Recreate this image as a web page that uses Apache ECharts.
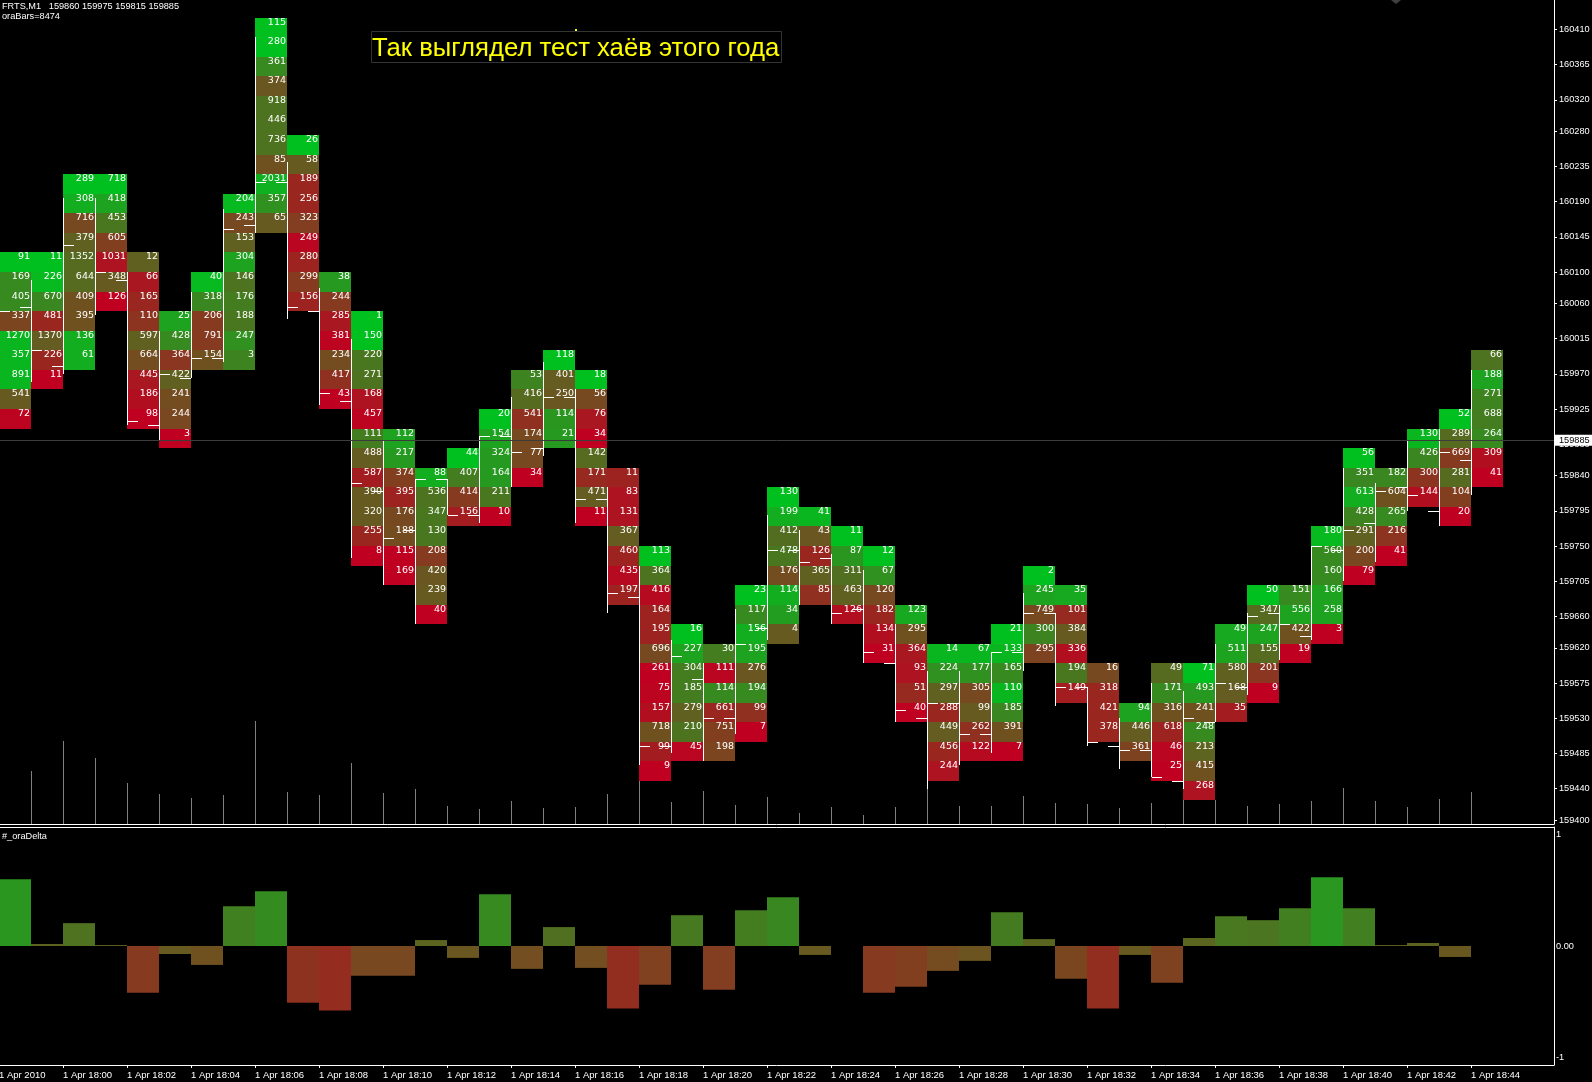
<!DOCTYPE html>
<html>
<head>
<meta charset="utf-8">
<title>oraDelta</title>
<style>
html,body{margin:0;padding:0;background:#000;}
#chart{width:1592px;height:1082px;}
</style>
<script src="https://cdn.jsdelivr.net/npm/echarts@6/dist/echarts.min.js"></script>
</head>
<body>
<div id="chart"></div>
<script>
// top price of the first cell in every one-minute column
var topPrices = [160125,160125,160225,160225,160125,160050,160100,160200,160425,160275,160100,160050,159900,159850,159875,159925,159975,160000,159975,159850,159750,159650,159625,159700,159825,159800,159775,159750,159675,159625,159625,159650,159725,159700,159600,159550,159600,159600,159650,159700,159700,159775,159875,159850,159900,159925,160000];
var cellStep = 25;
// footprint numbers, top to bottom
var cellValues = [
	[91,169,405,337,1270,357,891,541,72],
	[11,226,670,481,1370,226,11],
	[289,308,716,379,1352,644,409,395,136,61],
	[718,418,453,605,1031,348,126],
	[12,66,165,110,597,664,445,186,98],
	[25,428,364,422,241,244,3],
	[40,318,206,791,154],
	[204,243,153,304,146,176,188,247,3],
	[115,280,361,374,918,446,736,85,2031,357,65],
	[26,58,189,256,323,249,280,299,156],
	[38,244,285,381,234,417,43],
	[1,150,220,271,168,457,111,488,587,390,320,255,8],
	[112,217,374,395,176,188,115,169],
	[88,536,347,130,208,420,239,40],
	[44,407,414,156],
	[20,154,324,164,211,10],
	[53,416,541,174,77,34],
	[118,401,250,114,21],
	[18,56,76,34,142,171,471,11],
	[11,83,131,367,460,435,197],
	[113,364,416,164,195,696,261,75,157,718,99,9],
	[16,227,304,185,279,210,45],
	[30,111,114,661,751,198],
	[23,117,156,195,276,194,99,7],
	[130,199,412,478,176,114,34,4],
	[41,43,126,365,85],
	[11,87,311,463,126],
	[12,67,120,182,134,31],
	[123,295,364,93,51,40],
	[14,224,297,288,449,456,244],
	[67,177,305,99,262,122],
	[21,133,165,110,185,391,7],
	[2,245,749,300,295],
	[35,101,384,336,194,149],
	[16,318,421,378],
	[94,446,361],
	[49,171,316,618,46,25],
	[71,493,241,248,213,415,268],
	[49,511,580,168,35],
	[50,347,247,155,201,9],
	[151,556,422,19],
	[180,560,160,166,258,3],
	[56,351,613,428,291,200,79],
	[182,604,265,216,41],
	[130,426,300,144],
	[52,289,669,281,104,20],
	[66,188,271,688,264,309,41]
];
// 100 = full green, 0 = full red
var cellShades = [
	[100,72,72,36,95,95,95,47,2],
	[100,97,70,20,48,20,0],
	[100,90,38,50,55,55,42,42,90,90],
	[100,85,62,33,10,47,0],
	[50,12,20,27,50,40,12,8,0],
	[85,72,28,50,40,37,0],
	[97,70,30,30,42],
	[97,38,50,85,60,65,62,75,68],
	[100,100,72,45,60,60,60,42,92,75,47],
	[100,47,20,20,32,3,18,30,18],
	[80,30,12,2,40,25,0],
	[100,100,62,60,10,2,65,48,15,47,47,20,0],
	[85,80,33,18,38,40,0,0],
	[90,60,62,62,30,45,47,0],
	[100,65,30,15],
	[100,85,80,80,62,0],
	[68,55,25,38,38,0],
	[100,48,45,78,80],
	[100,38,12,0,55,22,48,0],
	[18,10,10,48,18,5,18],
	[100,60,5,18,18,38,0,2,8,42,15,0],
	[100,85,65,65,50,60,3],
	[65,3,72,20,33,36],
	[100,72,90,85,45,72,25,0],
	[100,90,57,62,40,90,82,47],
	[95,45,20,50,25],
	[100,78,58,50,8],
	[100,75,38,20,8,0],
	[88,42,12,10,22,0],
	[95,75,50,20,48,20,10],
	[95,75,38,47,25,5],
	[100,95,72,95,70,42,0],
	[100,85,38,68,35],
	[88,22,47,8,62,15],
	[38,20,20,20],
	[85,48,35],
	[55,72,42,18,3,0],
	[100,80,42,72,52,42,10],
	[88,85,50,48,15],
	[100,55,85,55,28,0],
	[72,85,42,0],
	[97,72,72,85,85,0],
	[100,70,90,68,50,37,0],
	[70,42,72,27,0],
	[95,70,27,8],
	[100,55,30,55,33,0],
	[60,85,68,65,72,8,0]
];
// white price bars
var highPrices = [160050,160090,160195,160195,160100,160025,160075,160180,160400,160240,160080,160015,159885,159835,159835,159890,159940,159985,159950,159825,159725,159630,159600,159670,159790,159770,159740,159720,159650,159590,159590,159615,159690,159665,159570,159530,159575,159565,159625,159665,159675,159750,159850,159830,159885,159900,159975];
var lowPrices = [160050,159960,159970,160045,159905,159885,159965,159985,160150,160040,159930,159735,159700,159650,159790,159780,159825,159865,159780,159665,159470,159485,159475,159510,159630,159675,159650,159600,159525,159440,159470,159485,159590,159545,159495,159465,159455,159440,159525,159560,159605,159630,159705,159730,159795,159775,159815];
var openPrices = [null,160055,159980,null,160090,159905,159965,159990,160160,160215,160050,159935,159820,159770,159835,159790,159890,159875,159940,159810,159685,159495,159580,159530,159645,159745,159735,159670,159600,159530,159550,159510,159615,159665,159570,159495,159490,159450,159525,159570,159665,159635,159745,159780,159825,159795,159860];
var closePrices = [160050,160000,160135,160100,159910,159970,159990,160155,160215,160055,159945,159830,159760,159835,159790,159890,159870,159940,159810,159690,159495,159610,159530,159625,159745,159730,159665,159615,159540,159550,159510,159615,159665,159570,159500,159490,159455,159530,159575,159660,159650,159750,159770,159820,159815,159870,159885];
var volumes = [0,2915,4565,3630,2255,1650,1430,1595,5665,1760,1595,3355,1705,1925,990,825,1265,880,935,1650,3190,1210,1815,1045,1485,605,935,495,935,1925,990,990,1540,1155,1100,880,1155,1870,1320,990,1100,1265,1980,1265,935,1375,1760];
var deltas = [0.56,0.017,0.192,0.008,-0.393,-0.067,-0.159,0.334,0.46,-0.476,-0.543,-0.25,-0.25,0.05,-0.1,0.435,-0.192,0.159,-0.184,-0.526,-0.326,0.259,-0.368,0.3,0.41,-0.075,0,-0.393,-0.343,-0.209,-0.125,0.284,0.058,-0.276,-0.526,-0.075,-0.309,0.067,0.25,0.217,0.318,0.577,0.318,0.008,0.025,-0.092];
var priceTicks = [160410,160365,160320,160280,160235,160190,160145,160100,160060,160015,159970,159925,159880,159840,159795,159750,159705,159660,159620,159575,159530,159485,159440,159400];
var lastPrice = 159885;
var timeTicks = [0,2,4,6,8,10,12,14,16,18,20,22,24,26,28,30,32,34,36,38,40,42,44,46];
var timeLabels = ['1 Apr 2010','1 Apr 18:00','1 Apr 18:02','1 Apr 18:04','1 Apr 18:06','1 Apr 18:08','1 Apr 18:10','1 Apr 18:12','1 Apr 18:14','1 Apr 18:16','1 Apr 18:18','1 Apr 18:20','1 Apr 18:22','1 Apr 18:24','1 Apr 18:26','1 Apr 18:28','1 Apr 18:30','1 Apr 18:32','1 Apr 18:34','1 Apr 18:36','1 Apr 18:38','1 Apr 18:40','1 Apr 18:42','1 Apr 18:44'];
var deltaTicks = [0.94,0,-0.94];
var deltaTickLabels = ['1','0.00','-1'];

var smallFont = '"Liberation Sans"';

function shadeColor(t) {
	// red -> olive -> green, blue stays at 32
	return 'rgb(' + Math.round(192 * (1 - t)) + ',' + Math.round(192 * t) + ',32)';
}

var cellData = [];
cellValues.forEach(function(col, k) {
	col.forEach(function(v, i) {
		cellData.push([k, topPrices[k] - i * cellStep, topPrices[k] - (i + 1) * cellStep, v, cellShades[k][i]]);
	});
});
var barData = highPrices.map(function(h, k) {
	return [k, h, lowPrices[k], openPrices[k], closePrices[k]];
});
var volumeData = volumes.map(function(v, k) { return [k, v]; });
var deltaData = deltas.map(function(d, k) {
	return {
		value: [k + 0.5, d],
		itemStyle: { color: shadeColor(0.5 + 0.5 * d) }
	};
});

function renderCell(params, api) {
	var a = api.coord([api.value(0), api.value(1)]);
	var b = api.coord([api.value(0) + 1, api.value(2)]);
	var x = Math.round(a[0]), y = Math.round(a[1]);
	return {
		type: 'group',
		children: [{
			type: 'rect',
			shape: { x: x, y: y, width: Math.round(b[0]) - x, height: Math.round(b[1]) - y },
			style: { fill: shadeColor(api.value(4) / 100) }
		}, {
			type: 'text',
			style: {
				x: Math.round(b[0]) - 1,
				y: y + 5,
				text: String(api.value(3)),
				fill: '#fff',
				font: '9.5px "DejaVu Sans"',
				textAlign: 'right',
				textVerticalAlign: 'middle'
			}
		}]
	};
}

function renderPriceBar(params, api) {
	var k = api.value(0);
	var x = Math.round(api.coord([k, 0])[0]);
	var top = Math.round(api.coord([k, api.value(1)])[1]);
	var bottom = Math.round(api.coord([k, api.value(2)])[1]);
	var kids = [{ type: 'rect', shape: { x: x, y: top, width: 1, height: Math.max(bottom - top, 0) }, style: { fill: '#fff' } }];
	if (!isNaN(api.value(3))) {
		kids.push({ type: 'rect', shape: { x: x - 11, y: Math.round(api.coord([k, api.value(3)])[1]), width: 11, height: 1 }, style: { fill: '#fff' } });
	}
	kids.push({ type: 'rect', shape: { x: x + 1, y: Math.round(api.coord([k, api.value(4)])[1]), width: 10, height: 1 }, style: { fill: '#fff' } });
	return { type: 'group', children: kids };
}

function renderVolume(params, api) {
	var k = api.value(0);
	var p = api.coord([k, api.value(1)]);
	var base = api.coord([k, 0]);
	return {
		type: 'rect',
		shape: { x: Math.round(p[0]), y: Math.round(p[1]), width: 1, height: Math.round(base[1]) - Math.round(p[1]) },
		style: { fill: '#808080' }
	};
}

var myChart = echarts.init(document.getElementById('chart'));
var option = {
	animation: false,
	backgroundColor: '#000',
	title: [
		{ text: 'FRTS,M1   159860 159975 159815 159885', left: 2, top: 2, padding: 0, textStyle: { color: '#fff', fontSize: 9.2, fontWeight: 'normal', fontFamily: smallFont } },
		{ text: 'oraBars=8474', left: 2, top: 12, padding: 0, textStyle: { color: '#fff', fontSize: 9.2, fontWeight: 'normal', fontFamily: smallFont } },
		{ text: '#_oraDelta', left: 2, top: 832, padding: 0, textStyle: { color: '#fff', fontSize: 9.2, fontWeight: 'normal', fontFamily: smallFont } },
		{ text: 'Так выглядел тест хаёв этого года', left: 372, top: 36, padding: 0, textStyle: { color: '#ffff00', fontSize: 25.7, fontWeight: 'normal', fontFamily: smallFont } }
	],
	graphic: [
		{ type: 'rect', silent: true, shape: { x: 371.5, y: 31.5, width: 410, height: 31 }, style: { fill: 'none', stroke: '#333', lineWidth: 1 } },
		{ type: 'rect', silent: true, shape: { x: 575, y: 29, width: 2, height: 2 }, style: { fill: '#ffff00' } },
		{ type: 'polygon', silent: true, shape: { points: [[1391, 0], [1401, 0], [1396, 4]] }, style: { fill: '#404040' } }
	],
	grid: [
		{ left: -1, top: 0, width: 1555, height: 824, outerBoundsMode: 'none' },
		{ left: -1, top: 827, width: 1555, height: 238, outerBoundsMode: 'none' }
	],
	xAxis: [
		{
			type: 'value', gridIndex: 0, min: 0, max: 48.59375,
			axisLine: { show: true, onZero: false, lineStyle: { color: '#fff' } },
			axisTick: { show: false }, axisLabel: { show: false }, splitLine: { show: false }
		},
		{
			type: 'value', gridIndex: 1, min: 0, max: 48.59375,
			axisLine: { show: true, onZero: false, lineStyle: { color: '#fff' } },
			axisTick: { show: true, length: 3, inside: false, customValues: timeTicks, lineStyle: { color: '#fff' } },
			axisLabel: {
				show: true, color: '#fff', fontSize: 9.5, fontFamily: smallFont, margin: 5, align: 'left',
				customValues: timeTicks,
				formatter: function(v) { return timeLabels[timeTicks.indexOf(v)] || ''; }
			},
			splitLine: { show: false }
		},
		{
			type: 'value', gridIndex: 1, position: 'top', min: 0, max: 48.59375,
			axisLine: { show: true, onZero: false, lineStyle: { color: '#fff' } },
			axisTick: { show: false }, axisLabel: { show: false }, splitLine: { show: false }
		}
	],
	yAxis: [
		{
			type: 'value', gridIndex: 0, position: 'right', min: 159394.9, max: 160447.5,
			axisLine: { show: true, onZero: false, lineStyle: { color: '#fff' } },
			axisTick: { show: true, length: 3, customValues: priceTicks, lineStyle: { color: '#fff' } },
			axisLabel: {
				show: true, color: '#fff', fontSize: 9.2, fontFamily: smallFont, margin: 5,
				customValues: priceTicks,
				formatter: function(v) { return String(v); }
			},
			splitLine: { show: false }
		},
		{
			type: 'value', gridIndex: 0, min: 0, max: 45320, show: false, splitLine: { show: false }
		},
		{
			type: 'value', gridIndex: 1, position: 'right', min: -1, max: 1,
			axisLine: { show: true, onZero: false, lineStyle: { color: '#fff' } },
			axisTick: { show: false },
			axisLabel: {
				show: true, color: '#fff', fontSize: 9.2, fontFamily: smallFont, margin: 2,
				customValues: deltaTicks,
				formatter: function(v) { return deltaTickLabels[deltaTicks.indexOf(v)]; }
			},
			splitLine: { show: false }
		}
	],
	series: [
		{
			name: 'volume', type: 'custom', xAxisIndex: 0, yAxisIndex: 1, z: 1,
			renderItem: renderVolume, data: volumeData
		},
		{
			name: 'cells', type: 'custom', xAxisIndex: 0, yAxisIndex: 0, z: 2,
			renderItem: renderCell, data: cellData
		},
		{
			name: 'price', type: 'custom', xAxisIndex: 0, yAxisIndex: 0, z: 3,
			renderItem: renderPriceBar, data: barData,
			markLine: {
				silent: true, symbol: 'none', animation: false, z: 4,
				lineStyle: { color: '#3c3c3c', width: 1, type: 'solid' },
				label: {
					show: true, position: 'end', distance: 1, color: '#000', backgroundColor: '#fff',
					fontSize: 9.2, fontFamily: smallFont, padding: [1, 6, 1, 4],
					formatter: String(lastPrice)
				},
				data: [{ yAxis: lastPrice }]
			}
		},
		{
			name: 'delta', type: 'bar', xAxisIndex: 1, yAxisIndex: 2, barWidth: 32, z: 2,
			data: deltaData
		}
	]
};
myChart.setOption(option);
</script>
</body>
</html>
